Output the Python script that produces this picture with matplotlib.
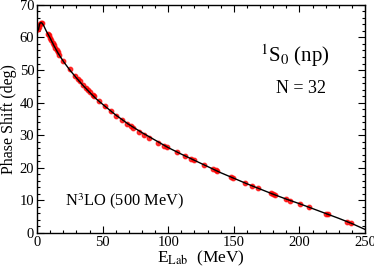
import matplotlib
matplotlib.use("Agg")
import matplotlib.pyplot as plt
from matplotlib.ticker import MultipleLocator

plt.rcParams['font.family'] = ['Liberation Serif', 'DejaVu Serif']
plt.rcParams['mathtext.fontset'] = 'stix'

# N3LO theory curve
curve_E = [1, 2, 3, 4, 5, 7, 10, 13, 16, 20, 25, 30, 35, 40, 45, 50, 60, 70, 80, 90,
           100, 110, 120, 130, 140, 150, 160, 170, 180, 190, 200, 210, 220, 230, 240, 250]
curve_delta = [62.3, 64.2, 64.6, 64.3, 63.7, 62.0, 59.8, 57.4, 55.2, 52.7, 50.0, 47.6,
               45.3, 43.2, 41.2, 39.5, 36.2, 33.3, 30.8, 28.5, 26.2, 24.2, 22.3, 20.4,
               18.5, 16.8, 15.1, 13.5, 11.9, 10.4, 9.0, 7.5, 6.0, 4.5, 2.9, 1.1]

# data points
data_E = [1.0, 1.5, 2.0, 3.0, 3.5, 8, 9, 10, 11, 12, 13, 14, 15, 16, 17, 20, 25, 29, 31,
          33, 35.3, 37.3, 39.1, 40.4, 42.5, 43.4, 47.5, 51.8, 56.2, 60.2, 64.6, 68.8,
          71.6, 72.9, 77.7, 81.8, 85.4, 92.5, 96.8, 99.3, 106.5, 112.8, 117.1, 119.7,
          127.3, 134.4, 136.4, 137.4, 147.9, 149.7, 158.5, 164.1, 168.5, 178.1, 179.6,
          181.4, 189.5, 192.8, 200.4, 207.0, 220.3, 221.8, 236.0, 239.1]
data_delta = [62.5, 63.2, 64.0, 64.4, 64.3, 61.2, 60.6, 59.9, 59.1, 58.4, 57.6, 56.9,
              56.2, 55.4, 54.7, 52.9, 50.2, 48.3, 47.4, 46.5, 45.4, 44.6, 43.9, 43.3,
              42.4, 42.1, 40.4, 38.9, 37.3, 36.0, 34.7, 33.5, 32.7, 32.3, 31.1, 30.1,
              29.3, 27.7, 26.8, 26.3, 24.9, 23.6, 22.8, 22.3, 20.9, 19.6, 19.3, 19.1,
              17.2, 16.9, 15.4, 14.5, 13.8, 12.2, 11.9, 11.6, 10.3, 9.8, 8.9, 7.9,
              5.9, 5.7, 3.5, 3.0]
data_err = [0.8, 0.8, 0.8, 0.6, 0.6, 0.6, 0.6, 0.6, 0.6, 0.5, 0.5, 0.5, 0.5, 0.5, 0.5,
            0.5, 0.4, 0.4, 0.4, 0.4, 0.4, 0.4, 0.4, 0.4, 0.4, 0.4, 0.4, 0.4, 0.4, 0.4,
            0.4, 0.4, 0.4, 0.4, 0.4, 0.4, 0.4, 0.4, 0.4, 0.4, 0.4, 0.4, 0.4, 0.4, 0.4,
            0.4, 0.4, 0.4, 0.4, 0.4, 0.4, 0.4, 0.4, 0.4, 0.4, 0.4, 0.4, 0.4, 0.4, 0.4,
            0.4, 0.4, 0.4, 0.4]

fig = plt.figure(figsize=(3.74, 2.70), dpi=100)
ax = fig.add_axes([0.099, 0.137, 0.877, 0.845])

ax.errorbar(data_E, data_delta, yerr=data_err, fmt='o', color='red', ms=3.2,
            mec='red', mfc='red', alpha=0.75, elinewidth=0.8, capsize=0, zorder=2)
ax.plot(curve_E, curve_delta, color='black', lw=1.0, zorder=3)

ax.set_xlim(0, 250)
ax.set_ylim(0, 70)
ax.xaxis.set_major_locator(MultipleLocator(50))
ax.xaxis.set_minor_locator(MultipleLocator(10))
ax.yaxis.set_major_locator(MultipleLocator(10))
ax.yaxis.set_minor_locator(MultipleLocator(2))
ax.tick_params(which='both', direction='in', top=True, right=True, labelsize=10.5, pad=2)
ax.tick_params(which='major', length=5, width=0.8)
ax.tick_params(which='minor', length=2.5, width=0.8)
for s in ax.spines.values():
    s.set_linewidth(1.0)

ax.set_ylabel('Phase Shift (deg)', fontsize=11.5, labelpad=2)
ax.set_xlabel(r'E$_{\mathrm{Lab}}$  (MeV)', fontsize=12.5, labelpad=0)

ax.text(0.68, 0.75, r'$^{1}$S$_{0}$ (np)', transform=ax.transAxes, fontsize=15,
        ha='left', va='baseline')
ax.text(0.73, 0.614, 'N = 32', transform=ax.transAxes, fontsize=13,
        ha='left', va='baseline')
ax.text(0.085, 0.123, r'N$^{3}$LO (500 MeV)', transform=ax.transAxes, fontsize=11.8,
        ha='left', va='baseline')

fig.savefig('out.png', dpi=100)
